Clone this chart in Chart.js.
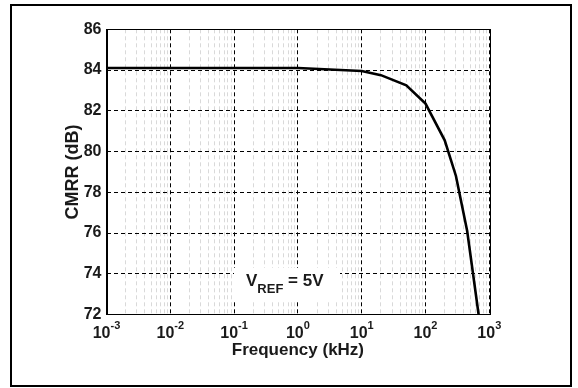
<!DOCTYPE html>
<html>
<head>
<meta charset="utf-8">
<script src="https://cdn.jsdelivr.net/npm/chart.js@4"></script>
<style>
  html, body { margin: 0; padding: 0; background: #fff; }
  #wrap { width: 578px; height: 388px; position: relative; }
</style>
</head>
<body>
<div id="wrap"><canvas id="cmrrChart" width="578" height="388"></canvas></div>
<script>
// CMRR vs frequency
const freqKHz = [0.001, 0.01, 0.1, 1, 10, 20, 50, 100, 200, 300, 450, 680];
const cmrrDB = [84.1, 84.1, 84.1, 84.1, 83.95, 83.75, 83.25, 82.35, 80.55, 78.8, 76.1, 72];
const xDecades = [-3, -2, -1, 0, 1, 2, 3];
const yTicks = [72, 74, 76, 78, 80, 82, 84, 86];

const FONT = "'Liberation Sans', Arial, Helvetica, sans-serif";
const TEXT = '#1a1a1a';

function isDecade(v) {
    const l = Math.log10(v);
    return Math.abs(l - Math.round(l)) < 1e-6;
}

const decorations = {
    id: 'decorations',
    beforeDatasetsDraw(chart) {
        // white box behind the V_REF note
        const ctx = chart.ctx;
        ctx.save();
        ctx.fillStyle = '#fff';
        ctx.fillRect(234, 268, 106, 33);
        ctx.restore();
    },
    afterDraw(chart) {
        const ctx = chart.ctx;
        const area = chart.chartArea;
        const xs = chart.scales.x;
        ctx.save();

        // full plot box
        ctx.strokeStyle = '#000';
        ctx.lineWidth = 1;
        ctx.strokeRect(Math.round(area.left) + 0.5, Math.round(area.top) + 0.5,
            Math.round(area.right - area.left), Math.round(area.bottom - area.top));

        // x tick labels 10^n
        ctx.fillStyle = TEXT;
        ctx.textBaseline = 'alphabetic';
        ctx.textAlign = 'left';
        xDecades.forEach(function (e) {
            const x = xs.getPixelForValue(Math.pow(10, e));
            ctx.font = 'bold 16px ' + FONT;
            const w1 = ctx.measureText('10').width;
            ctx.font = 'bold 11px ' + FONT;
            const w2 = ctx.measureText(String(e)).width;
            const x0 = x - (w1 + w2) / 2;
            ctx.font = 'bold 16px ' + FONT;
            ctx.fillText('10', x0, 338);
            ctx.font = 'bold 11px ' + FONT;
            ctx.fillText(String(e), x0 + w1, 329);
        });

        // V_REF = 5V note
        ctx.font = 'bold 17px ' + FONT;
        ctx.fillText('V', 246, 286);
        const wv = ctx.measureText('V').width;
        ctx.font = 'bold 13px ' + FONT;
        ctx.fillText('REF', 246 + wv, 293);
        const wr = ctx.measureText('REF').width;
        ctx.font = 'bold 17px ' + FONT;
        ctx.fillText(' = 5V', 246 + wv + wr, 286);

        // outer frame
        ctx.strokeStyle = '#000';
        ctx.lineWidth = 2;
        ctx.strokeRect(11, 5, 560, 381);
        ctx.restore();
    }
};

const ctx = document.getElementById('cmrrChart').getContext('2d');

new Chart(ctx, {
    type: 'line',
    data: {
        datasets: [{
            data: freqKHz.map(function (f, i) { return { x: f, y: cmrrDB[i] }; }),
            borderColor: '#000',
            borderWidth: 2.6,
            pointRadius: 0,
            tension: 0,
            fill: false
        }]
    },
    options: {
        responsive: false,
        animation: false,
        events: [],
        layout: { padding: { left: 0, right: 88.7, top: 29.3, bottom: 0 } },
        plugins: {
            legend: { display: false },
            tooltip: { enabled: false }
        },
        scales: {
            x: {
                type: 'logarithmic',
                min: 0.001,
                max: 1000,
                afterBuildTicks: function (scale) {
                    const t = [];
                    for (let d = -3; d < 3; d++) {
                        for (let m = 1; m < 10; m++) t.push({ value: m * Math.pow(10, d) });
                    }
                    t.push({ value: 1000 });
                    scale.ticks = t;
                },
                afterFit: function (scale) { scale.height = 73.5; },
                ticks: { display: false },
                grid: {
                    drawTicks: false,
                    lineWidth: 1,
                    color: function (c) {
                        return c.tick && isDecade(c.tick.value) ? '#000' : '#d9d9d9';
                    }
                },
                border: { display: true, color: '#000', width: 1, dash: [4, 3] },
                title: {
                    display: true,
                    text: 'Frequency (kHz)',
                    color: TEXT,
                    font: { family: FONT, size: 17, weight: 'bold' },
                    padding: { top: 0, bottom: 27 }
                }
            },
            y: {
                min: 72,
                max: 86,
                afterBuildTicks: function (scale) {
                    scale.ticks = yTicks.map(function (v) { return { value: v }; });
                },
                afterFit: function (scale) { scale.width = 106.5; },
                ticks: {
                    color: TEXT,
                    padding: 5,
                    font: { family: FONT, size: 16, weight: 'bold' }
                },
                grid: { drawTicks: false, color: '#000', lineWidth: 1 },
                border: { display: true, color: '#000', width: 1, dash: [4, 3] },
                title: {
                    display: true,
                    text: 'CMRR (dB)',
                    color: TEXT,
                    font: { family: FONT, size: 18, weight: 'bold' },
                    padding: { top: 62, bottom: 0 }
                }
            }
        }
    },
    plugins: [decorations]
});
</script>
</body>
</html>
